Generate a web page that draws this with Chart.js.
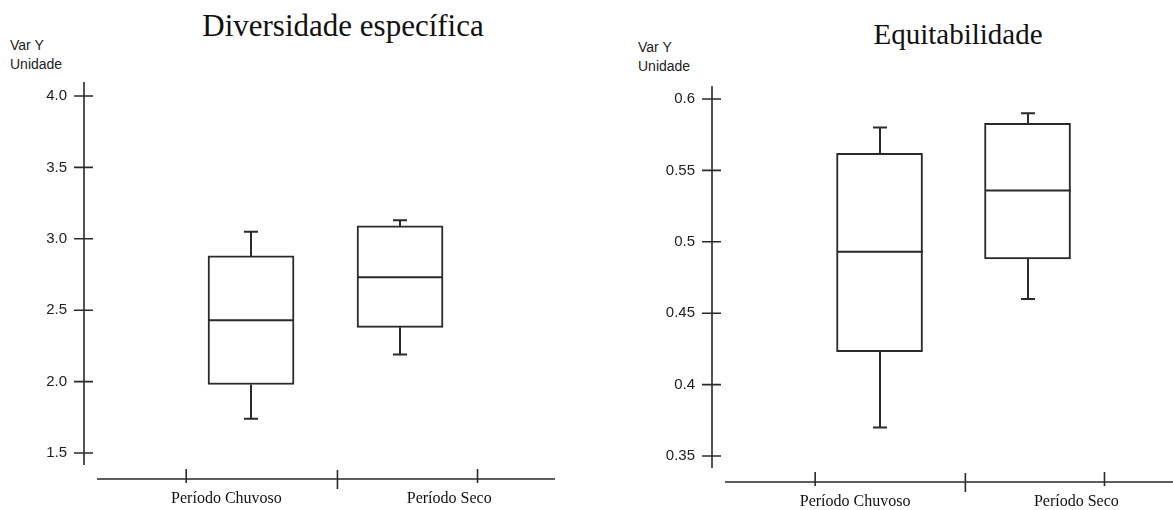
<!DOCTYPE html>
<html>
<head>
<meta charset="utf-8">
<script src="https://cdn.jsdelivr.net/npm/chart.js@4.4.1/dist/chart.umd.min.js"></script>
<style>
  body { margin: 0; background: #fff; width: 1173px; height: 510px; position: relative; overflow: hidden; }
  canvas { position: absolute; top: 0; }
  .titulo { position: absolute; text-align: center; white-space: nowrap; font-family: 'Liberation Serif', 'Times New Roman', serif; font-size: 29px; line-height: 34px; color: #111; }
  .unidade { position: absolute; font-family: 'Liberation Sans', Arial, sans-serif; font-size: 14px; line-height: 19px; color: #222; }
</style>
</head>
<body>
<div class="titulo" style="left: 193px; width: 300px; top: 9px; font-size: 31px;">Diversidade específica</div>
<div class="unidade" style="left: 10px; top: 36px;">Var Y<br>Unidade</div>
<canvas id="grafDiversidade" width="586" height="510" style="left: 0;"></canvas>

<div class="titulo" style="left: 808px; width: 300px; top: 17px;">Equitabilidade</div>
<div class="unidade" style="left: 638px; top: 38px;">Var Y<br>Unidade</div>
<canvas id="grafEquitabilidade" width="587" height="510" style="left: 586px;"></canvas>

<script>
const categorias = ['Período Chuvoso', 'Período Seco'];

// Diversidade específica (min, quartis, mediana, max)
const divMin = [1.74, 2.19];
const divQ1 = [1.98, 2.38];
const divMediana = [2.43, 2.73];
const divQ3 = [2.88, 3.09];
const divMax = [3.05, 3.13];
const divTicks = ['1.5', '2.0', '2.5', '3.0', '3.5', '4.0'];

// Equitabilidade
const eqMin = [0.370, 0.460];
const eqQ1 = [0.423, 0.488];
const eqMediana = [0.493, 0.536];
const eqQ3 = [0.562, 0.583];
const eqMax = [0.580, 0.590];
const eqTicks = ['0.35', '0.4', '0.45', '0.5', '0.55', '0.6'];

// posicoes no eixo x (unidades da escala linear)
const posCaixas = [1, 2];
const marcasX = [0.565, 1.58, 2.52];
const posRotulos = [0.835, 2.33];

const COR = '#2a2a2a';

// desenha mediana, bigodes e os eixos em cruz
const desenhoBoxplot = {
  id: 'desenhoBoxplot',
  afterDatasetsDraw(chart, args, opts) {
    const { ctx, chartArea: area, scales: { x, y } } = chart;
    const meta = chart.getDatasetMeta(0);
    ctx.save();
    ctx.strokeStyle = COR;
    ctx.lineCap = 'butt';

    ctx.lineWidth = 2;
    meta.data.forEach((bar, i) => {
      const cx = Math.round(bar.x);
      const half = bar.width / 2;
      const yMed = y.getPixelForValue(opts.mediana[i]);
      const yQ1 = y.getPixelForValue(opts.q1[i]);
      const yQ3 = y.getPixelForValue(opts.q3[i]);
      const yMin = y.getPixelForValue(opts.min[i]);
      const yMax = y.getPixelForValue(opts.max[i]);
      ctx.beginPath();
      ctx.moveTo(cx - half, yMed); ctx.lineTo(cx + half, yMed);
      ctx.moveTo(cx, yQ3); ctx.lineTo(cx, yMax);
      ctx.moveTo(cx - 7, yMax); ctx.lineTo(cx + 7, yMax);
      ctx.moveTo(cx, yQ1); ctx.lineTo(cx, yMin);
      ctx.moveTo(cx - 7, yMin); ctx.lineTo(cx + 7, yMin);
      ctx.stroke();
    });

    // eixo y com marcas cruzadas
    ctx.lineWidth = 1.6;
    const ax = area.left;
    ctx.beginPath();
    ctx.moveTo(ax, area.top); ctx.lineTo(ax, area.bottom);
    y.ticks.forEach(t => {
      const py = y.getPixelForValue(t.value);
      ctx.moveTo(ax - 10, py); ctx.lineTo(ax + 9, py);
    });
    // eixo x separado, abaixo do eixo y
    const ly = area.bottom + 14;
    ctx.moveTo(ax + 13, ly); ctx.lineTo(area.right, ly);
    marcasX.forEach((v, i) => {
      const px = x.getPixelForValue(v);
      if (i === 1) { ctx.moveTo(px, ly - 9); ctx.lineTo(px, ly + 10); }
      else { ctx.moveTo(px, ly - 10); ctx.lineTo(px, ly + 4); }
    });
    ctx.stroke();
    ctx.restore();
  }
};

function criarGrafico(id, s) {
  return new Chart(document.getElementById(id), {
    type: 'bar',
    data: {
      datasets: [{
        data: posCaixas.map((p, i) => ({ x: p, y: [s.q1[i], s.q3[i]] })),
        backgroundColor: '#ffffff',
        borderColor: COR,
        borderWidth: 2,
        borderSkipped: false,
        barThickness: 86,
        grouped: false
      }]
    },
    options: {
      responsive: false,
      animation: false,
      events: [],
      layout: { padding: { top: s.topo, right: s.direita, left: 0, bottom: 0 } },
      plugins: {
        legend: { display: false },
        tooltip: { enabled: false },
        desenhoBoxplot: { min: s.min, q1: s.q1, mediana: s.mediana, q3: s.q3, max: s.max }
      },
      scales: {
        x: {
          type: 'linear',
          offset: false,
          min: s.xMin,
          max: s.xMax,
          grid: { display: false, drawTicks: false },
          border: { display: false },
          afterBuildTicks: sc => { sc.ticks = posRotulos.map(v => ({ value: v })); },
          afterFit: sc => { sc.height = s.alturaX; },
          ticks: {
            autoSkip: false,
            maxRotation: 0,
            padding: 24,
            color: '#111',
            font: { family: "'Liberation Serif', 'Times New Roman', serif", size: 16 },
            callback: (v, i) => categorias[i]
          }
        },
        y: {
          type: 'linear',
          min: s.yMin,
          max: s.yMax,
          grid: { display: false, drawTicks: false },
          border: { display: false },
          afterBuildTicks: sc => { sc.ticks = s.ticks.map(t => ({ value: parseFloat(t) })); },
          afterFit: sc => { sc.width = s.larguraY; },
          ticks: {
            padding: 17,
            color: '#222',
            font: { family: "'Liberation Sans', Arial, sans-serif", size: 15 },
            callback: (v, i) => s.ticks[i]
          }
        }
      }
    },
    plugins: [desenhoBoxplot]
  });
}

criarGrafico('grafDiversidade', {
  min: divMin, q1: divQ1, mediana: divMediana, q3: divQ3, max: divMax, ticks: divTicks,
  yMin: 1.416, yMax: 4.098, xMin: -0.121, xMax: 3.04,
  topo: 82, direita: 31, alturaX: 45, larguraY: 84
});

criarGrafico('grafEquitabilidade', {
  min: eqMin, q1: eqQ1, mediana: eqMediana, q3: eqQ3, max: eqMax, ticks: eqTicks,
  yMin: 0.3416, yMax: 0.6091, xMin: -0.132, xMax: 2.983,
  topo: 86, direita: 0, alturaX: 42, larguraY: 126
});
</script>
</body>
</html>
